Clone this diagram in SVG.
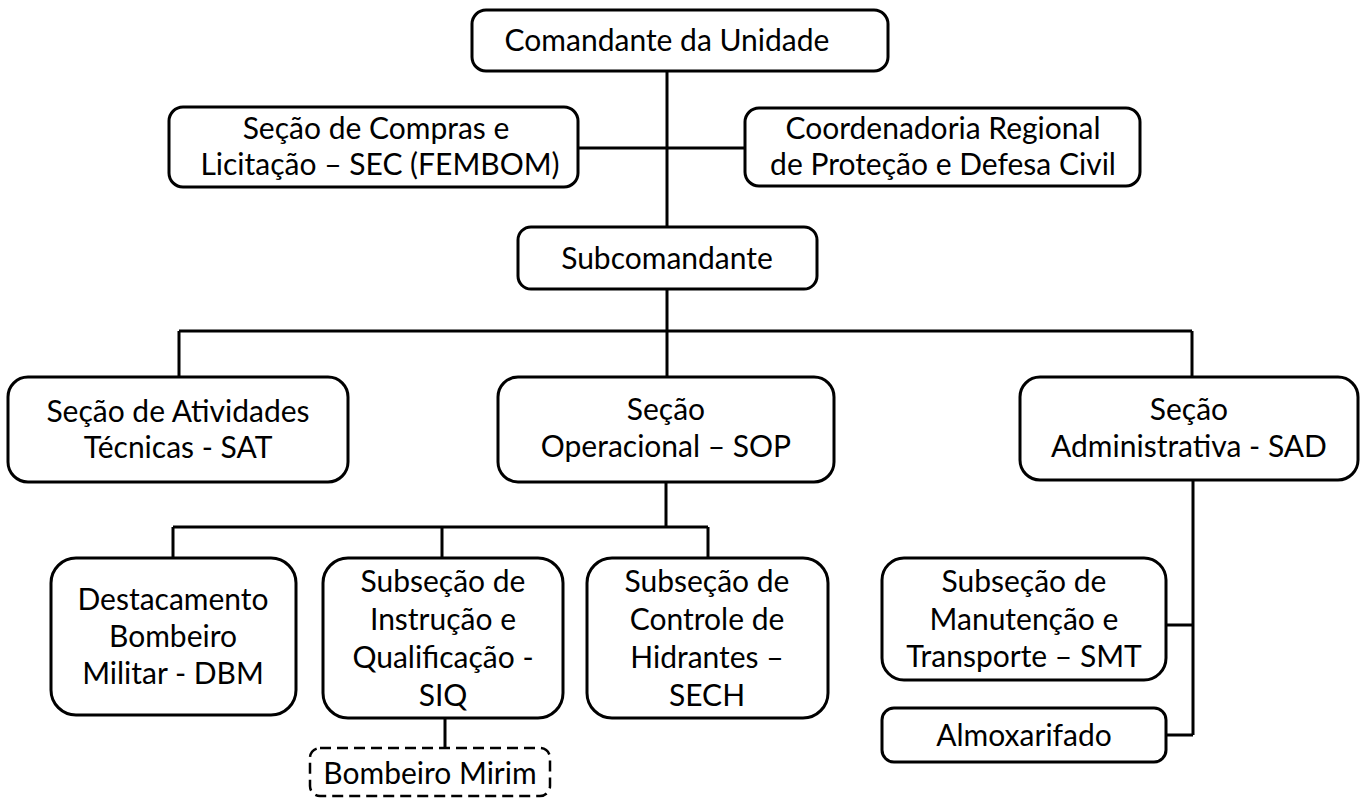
<svg xmlns="http://www.w3.org/2000/svg" width="1366" height="798" viewBox="0 0 1366 798">
<style>
.b{fill:#fff;stroke:#000;stroke-width:3}
.d{fill:#fff;stroke:#000;stroke-width:2.5;stroke-dasharray:11 6}
.c{fill:none;stroke:#000;stroke-width:3}
text{font-family:"Lato","Liberation Sans",sans-serif;font-size:30px;fill:#000;text-anchor:middle}
</style>
<rect width="1366" height="798" fill="#fff"/>
<g id="connectors">
<path class="c" d="M667 71V227M578 148H745M667 289V377M179 331H1192M179 331V377M1192 331V377M666 482V527M173 527H708M173 527V558M442 527V558M708 527V558M1193 480V735M1166 625H1193M1166 735H1193M445 718V748"/>
</g>
<g id="comandante"><rect class="b" x="472" y="10" width="416" height="61" rx="14"/><text x="667" y="51">Comandante da Unidade</text></g>
<g id="compras"><rect class="b" x="169" y="107" width="409" height="80" rx="14"/><text x="376" y="139">Seção de Compras e</text><text x="380" y="175">Licitação – SEC (FEMBOM)</text></g>
<g id="coordenadoria"><rect class="b" x="745" y="108" width="395" height="78" rx="14"/><text x="943" y="139">Coordenadoria Regional</text><text x="943" y="175">de Proteção e Defesa Civil</text></g>
<g id="subcomandante"><rect class="b" x="518" y="227" width="299" height="62" rx="13"/><text x="667" y="269">Subcomandante</text></g>
<g id="sat"><rect class="b" x="8" y="377" width="340" height="105" rx="20"/><text x="178" y="422">Seção de Atividades</text><text x="178" y="458">Técnicas - SAT</text></g>
<g id="sop"><rect class="b" x="498" y="377" width="336" height="105" rx="20"/><text x="666" y="420">Seção</text><text x="666" y="457">Operacional – SOP</text></g>
<g id="sad"><rect class="b" x="1020" y="377" width="338" height="103" rx="20"/><text x="1189" y="420">Seção</text><text x="1189" y="457">Administrativa - SAD</text></g>
<g id="dbm"><rect class="b" x="51" y="558" width="245" height="157" rx="25"/><text x="173" y="610">Destacamento</text><text x="173" y="647">Bombeiro</text><text x="173" y="684">Militar - DBM</text></g>
<g id="siq"><rect class="b" x="323" y="558" width="240" height="160" rx="25"/><text x="443" y="592">Subseção de</text><text x="443" y="630">Instrução e</text><text x="443" y="668">Qualificação -</text><text x="443" y="706">SIQ</text></g>
<g id="sech"><rect class="b" x="587" y="558" width="241" height="160" rx="25"/><text x="707" y="592">Subseção de</text><text x="707" y="630">Controle de</text><text x="707" y="668">Hidrantes –</text><text x="707" y="706">SECH</text></g>
<g id="smt"><rect class="b" x="882" y="558" width="284" height="122" rx="22"/><text x="1024" y="592">Subseção de</text><text x="1024" y="630">Manutenção e</text><text x="1024" y="667">Transporte – SMT</text></g>
<g id="almoxarifado"><rect class="b" x="882" y="708" width="284" height="54" rx="12"/><text x="1024" y="746">Almoxarifado</text></g>
<g id="mirim"><rect class="d" x="310" y="748" width="240" height="48" rx="10"/><text x="430" y="784">Bombeiro Mirim</text></g>
</svg>
